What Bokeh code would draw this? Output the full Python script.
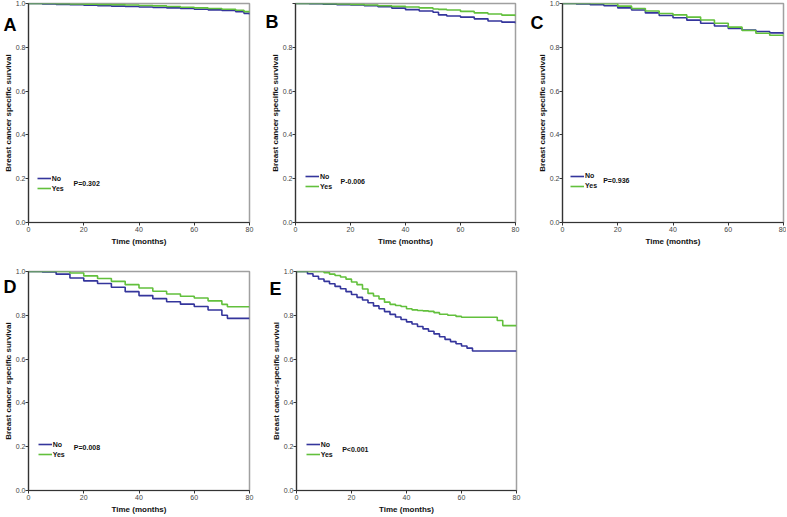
from bokeh.plotting import figure
from bokeh.layouts import column, row
from bokeh.models import (Legend, LegendItem, Label, FixedTicker, PrintfTickFormatter,
                          Range1d, LinearAxis)
from bokeh.embed import file_html
from bokeh.resources import INLINE

# ---------------- data ----------------
time_ticks = [0, 20, 40, 60, 80]
surv_ticks = [0.0, 0.2, 0.4, 0.6, 0.8, 1.0]
group_labels = ["No", "Yes"]
panel_letters = ["A", "B", "C", "D", "E"]
p_values = ["P=0.302", "P-0.006", "P=0.936", "P=0.008", "P<0.001"]
y_titles = ["Breast cancer specific survival"] * 4 + ["Breast cancer-specific survival"]
x_title = "Time (months)"

a_t = [0, 5, 10, 15, 20, 25, 30, 35, 40, 45, 50, 55, 60, 65, 70, 75, 78, 80]
a_no = [1.0, 0.998, 0.996, 0.994, 0.992, 0.990, 0.988, 0.986, 0.984, 0.982, 0.980, 0.977, 0.974, 0.971, 0.968, 0.962, 0.955, 0.950]
a_yes = [1.0, 1.0, 0.999, 0.998, 0.997, 0.996, 0.995, 0.993, 0.991, 0.989, 0.986, 0.983, 0.980, 0.977, 0.974, 0.969, 0.963, 0.960]

b_t = [0, 5, 10, 15, 20, 25, 30, 35, 40, 45, 50, 52, 55, 60, 65, 70, 75, 80]
b_no = [1.0, 0.999, 0.997, 0.995, 0.993, 0.990, 0.985, 0.979, 0.972, 0.966, 0.960, 0.948, 0.943, 0.938, 0.930, 0.920, 0.915, 0.909]
b_yes = [1.0, 1.0, 0.999, 0.998, 0.996, 0.993, 0.990, 0.987, 0.984, 0.980, 0.975, 0.973, 0.970, 0.964, 0.957, 0.952, 0.947, 0.942]

c_t = [0, 5, 10, 15, 20, 25, 30, 35, 40, 45, 50, 55, 60, 65, 70, 75, 80]
c_no = [1.0, 0.998, 0.994, 0.990, 0.980, 0.970, 0.957, 0.945, 0.935, 0.924, 0.910, 0.897, 0.886, 0.879, 0.872, 0.866, 0.861]
c_yes = [1.0, 1.0, 1.0, 0.999, 0.988, 0.977, 0.966, 0.954, 0.948, 0.938, 0.925, 0.910, 0.892, 0.877, 0.864, 0.855, 0.850]

d_t = [0, 5, 10, 15, 20, 25, 30, 35, 40, 45, 50, 55, 60, 65, 70, 72, 80]
d_no = [1.0, 0.998, 0.988, 0.970, 0.957, 0.945, 0.928, 0.908, 0.890, 0.876, 0.862, 0.851, 0.840, 0.824, 0.800, 0.786, 0.786]
d_yes = [1.0, 1.0, 1.0, 0.993, 0.980, 0.968, 0.955, 0.940, 0.925, 0.910, 0.897, 0.887, 0.879, 0.866, 0.850, 0.839, 0.839]

e_t_no = [0, 4, 6, 8, 10, 12, 14, 16, 18, 20, 22, 24, 26, 28, 30, 32, 34, 36, 38, 40,
          42, 44, 46, 48, 50, 52, 54, 56, 58, 60, 62, 64, 80]
e_no = [1.0, 0.990, 0.978, 0.966, 0.955, 0.944, 0.932, 0.921, 0.908, 0.895, 0.882, 0.870, 0.857,
        0.843, 0.830, 0.817, 0.804, 0.792, 0.781, 0.770, 0.760, 0.749, 0.738, 0.727, 0.715,
        0.702, 0.690, 0.680, 0.670, 0.660, 0.650, 0.637, 0.637]
e_t_yes = [0, 10, 12, 14, 16, 18, 20, 22, 24, 26, 28, 30, 32, 34, 36, 38, 40, 42, 44, 46,
           48, 50, 52, 55, 58, 60, 73, 75, 80]
e_yes = [1.0, 0.995, 0.988, 0.982, 0.975, 0.965, 0.952, 0.940, 0.920, 0.900, 0.888, 0.875,
         0.860, 0.850, 0.845, 0.840, 0.830, 0.825, 0.822, 0.820, 0.818, 0.812, 0.805, 0.800,
         0.795, 0.791, 0.776, 0.753, 0.753]

series = [
    (a_t, a_no, a_t, a_yes),
    (b_t, b_no, b_t, b_yes),
    (c_t, c_no, c_t, c_yes),
    (d_t, d_no, d_t, d_yes),
    (e_t_no, e_no, e_t_yes, e_yes),
]

# ---------------- style / layout ----------------
BLUE = "#34359c"
GREEN = "#62c03c"
FONT = "Liberation Sans"

# (width, height, left, right, top, bottom, letter (y position, standoff), legend loc, p offset)
geom = [
    (262, 258, 28, 13, 3, 36, (0.904, -16), (8.7, 29), (45, 39.4)),
    (265, 258, 33, 12, 3, 36, (0.917, -11), (10, 31), (45, 40.7)),
    (259, 258, 35, 3, 3, 36, (0.910, -9), (8, 31.3), (40.7, 41.7)),
    (266, 258, 28, 17, 13, 26, (0.931, -16), (9.7, 31), (45.3, 42.6)),
    (259, 258, 30, 9, 13, 26, (0.921, -13), (9.7, 30.6), (45.7, 41.3)),
]


def make_panel(i):
    t_no, s_no, t_yes, s_yes = series[i]
    w, h, bl, br, bt, bb, letter, lloc, poff = geom[i]
    p = figure(width=w, height=h, output_backend="svg", toolbar_location=None,
               x_range=Range1d(0, 80), y_range=Range1d(0, 1.0),
               min_border_left=bl, min_border_right=br,
               min_border_top=bt, min_border_bottom=bb)
    p.background_fill_color = "white"
    p.border_fill_color = "white"
    p.grid.visible = False
    p.outline_line_color = "#a0a0a0"
    p.outline_line_width = 1.5

    r_no = p.step(t_no, s_no, mode="after", line_color=BLUE, line_width=1.6)
    r_yes = p.step(t_yes, s_yes, mode="after", line_color=GREEN, line_width=1.6)

    p.xaxis.ticker = FixedTicker(ticks=time_ticks)
    p.yaxis.ticker = FixedTicker(ticks=surv_ticks)
    p.yaxis.formatter = PrintfTickFormatter(format="%.1f")
    if i == 1:
        p.yaxis.major_label_overrides = {1.0: ""}
    for ax in (p.xaxis, p.yaxis):
        ax.axis_line_color = "#333333"
        ax.axis_line_width = 1.2
        ax.major_tick_line_color = "#333333"
        ax.major_tick_out = 3
        ax.major_tick_in = 0
        ax.minor_tick_line_color = None
        ax.major_label_text_font = FONT
        ax.major_label_text_font_size = "7px"
        ax.major_label_text_color = "#444444"
        ax.axis_label_text_font = FONT
        ax.axis_label_text_font_size = "8px"
        ax.axis_label_text_font_style = "bold"
        ax.axis_label_text_color = "#111111"
    p.xaxis.major_label_standoff = 1
    p.xaxis.axis_label_standoff = 2
    p.yaxis.major_label_standoff = 0
    p.yaxis.axis_label_standoff = 0
    p.xaxis.axis_label = x_title
    p.yaxis.axis_label = y_titles[i]

    # panel letter: single tick label of an outer, line-less axis pulled inwards
    ly, lstand = letter
    letter_axis = LinearAxis(ticker=FixedTicker(ticks=[ly]),
                             major_label_overrides={ly: panel_letters[i]},
                             axis_line_color=None, major_tick_line_color=None,
                             minor_tick_line_color=None, major_tick_out=0, major_tick_in=0,
                             major_label_standoff=lstand,
                             major_label_text_font=FONT, major_label_text_font_size="18px",
                             major_label_text_font_style="bold",
                             major_label_text_color="black")
    p.add_layout(letter_axis, "left")

    legend = Legend(items=[LegendItem(label=group_labels[0], renderers=[r_no]),
                           LegendItem(label=group_labels[1], renderers=[r_yes])],
                    location=lloc, orientation="vertical", padding=0, margin=0, spacing=0,
                    glyph_width=14, glyph_height=10, label_height=10, label_standoff=1,
                    label_text_font=FONT, label_text_font_size="7px",
                    label_text_font_style="bold", label_text_color="#111111",
                    border_line_alpha=0, background_fill_alpha=0)
    p.add_layout(legend)

    p.add_layout(Label(x=0, y=0, x_offset=poff[0], y_offset=poff[1], text=p_values[i],
                       text_font=FONT, text_font_size="7px", text_font_style="bold",
                       text_color="#111111", text_baseline="middle", text_align="left"))
    return p


panels = [make_panel(i) for i in range(5)]
layout = column(row(panels[0], panels[1], panels[2]), row(panels[3], panels[4]))

open("out.html", "w").write(file_html(layout, INLINE))
